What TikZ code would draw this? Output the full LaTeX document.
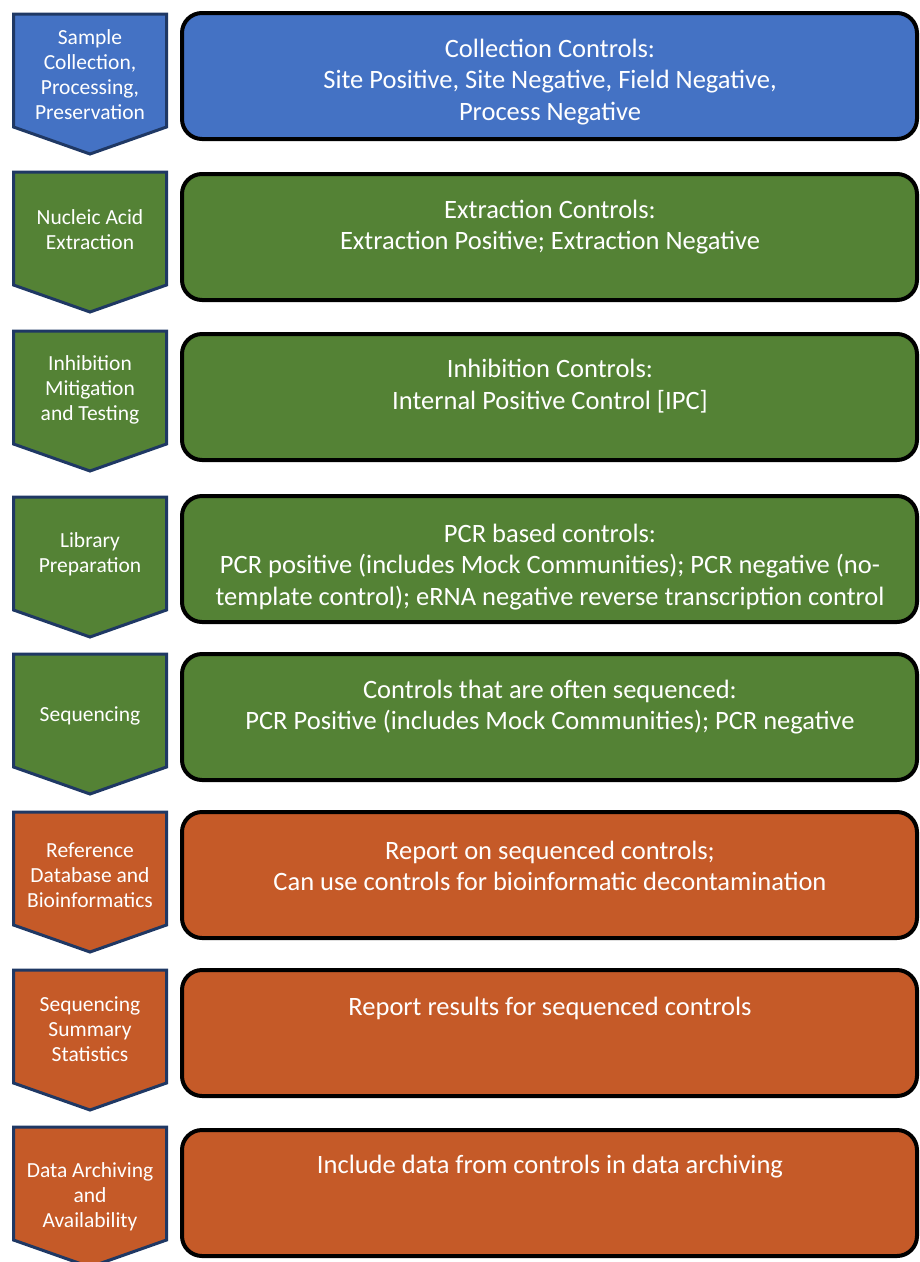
\documentclass[tikz,border=0pt]{standalone}
\usepackage{fontspec}
\setmainfont{Carlito}
\definecolor{cblue}{HTML}{4472C4}
\definecolor{cgreen}{HTML}{548235}
\definecolor{corange}{HTML}{C55A28}
\definecolor{navy}{HTML}{1F3864}
\tikzset{
  chevshape/.style={draw=navy, line width=3pt, line join=miter},
  ctrlbox/.style={draw=black, line width=4pt, rounded corners=20pt},
  chevtext/.style={text=white, align=center, font=\fontsize{21.5}{25}\selectfont, inner sep=0pt},
  boxtext/.style={text=white, align=center, font=\fontsize{26.5}{31.5}\selectfont, inner sep=0pt},
}
% #1 chevron top, #2 chevron text y, #3 box top, #4 box text y, #5 colour, #6 name, #7 chevron text, #8 box text
\newcommand\steprow[8]{%
  \draw[chevshape, fill=#5] (13.5,#1) -- (166.5,#1) -- (166.5,#1+113) -- (90,#1+140) -- (13.5,#1+113) -- cycle;
  \node[chevtext] (#6s) at (90,#2) {#7};
  \draw[ctrlbox, fill=#5] (182,#3+2) rectangle (917,#3+128);
  \node[boxtext] (#6c) at (550,#4) {#8};
}
\begin{document}
\begin{tikzpicture}[x=1pt,y=-1pt]
\useasboundingbox (0,0) rectangle (920,1262);
\fill[white] (0,0) rectangle (920,1262);
\steprow{14}{75}{11}{82}{cblue}{r1}{Sample\\Collection,\\Processing,\\Preservation}{Collection Controls:\\Site Positive, Site Negative, Field Negative,\\Process Negative}
\steprow{172}{230}{172}{227}{cgreen}{r2}{Nucleic Acid\\Extraction}{Extraction Controls:\\Extraction Positive; Extraction Negative}
\steprow{331}{390}{332}{386}{cgreen}{r3}{Inhibition\\Mitigation\\and Testing}{Inhibition Controls:\\Internal Positive Control [IPC]}
\steprow{497}{554}{494}{567}{cgreen}{r4}{Library\\Preparation}{PCR based controls:\\PCR positive (includes Mock Communities); PCR negative (no-\\template control); eRNA negative reverse transcription control}
\steprow{654}{716}{652}{707}{cgreen}{r5}{Sequencing}{Controls that are often sequenced:\\PCR Positive (includes Mock Communities); PCR negative}
\steprow{812}{875}{810}{866}{corange}{r6}{Reference\\Database and\\Bioinformatics}{Report on sequenced controls;\\Can use controls for bioinformatic decontamination}
\steprow{970}{1029}{968}{1008}{corange}{r7}{Sequencing\\Summary\\Statistics}{Report results for sequenced controls}
\steprow{1127}{1197}{1128}{1167}{corange}{r8}{Data Archiving\\and\\Availability}{Include data from controls in data archiving}
\end{tikzpicture}
\end{document}
